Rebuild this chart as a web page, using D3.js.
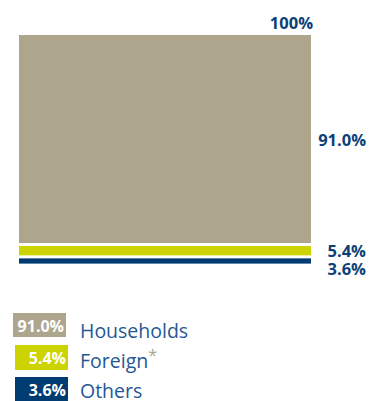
<!DOCTYPE html>
<html>
<head>
<meta charset="utf-8">
<script src="https://cdn.jsdelivr.net/npm/d3@7"></script>
<style>
  body { margin: 0; background: #fff; }
  svg { display: block; font-family: "Open Sans", sans-serif; }
</style>
</head>
<body>
<script>
//chart values
var categories = ["Households", "Foreign", "Others"];
var shares = [91.0, 5.4, 3.6];
var shareLabels = ["91.0%", "5.4%", "3.6%"];
var totalLabel = "100%";
var colors = ["#ada68d", "#ccd300", "#003b71"];

//frame
var width = 370,
    height = 401;

var svg = d3.select("body")
    .append("svg")
    .attr("width", width)
    .attr("height", height);

//vertical scale for the stacked column, 0% at top
var y = d3.scaleLinear()
    .domain([0, 100])
    .range([35, 263.6]);

var x0 = 19, x1 = 311, gap = 3;

//cumulative start of each segment
var starts = [];
shares.reduce(function(acc, v){ starts.push(acc); return acc + v; }, 0);

var segs = categories.map(function(c, i){
    return {name: c, v: shares[i], start: starts[i], end: starts[i] + shares[i], label: shareLabels[i], color: colors[i], i: i};
});

svg.selectAll(".seg")
    .data(segs)
    .enter()
    .append("rect")
    .attr("class", "seg")
    .attr("x", x0)
    .attr("width", x1 - x0)
    .attr("y", function(d){ return y(d.start) + (d.i > 0 ? gap : 0); })
    .attr("height", function(d){ return y(d.end) - y(d.start) - (d.i > 0 ? gap : 0); })
    .attr("fill", function(d){ return d.color; });

//total label
svg.append("text")
    .attr("x", 313)
    .attr("y", 29)
    .attr("text-anchor", "end")
    .attr("font-weight", "bold")
    .attr("font-size", 16.5)
    .attr("fill", "#0d3f78")
    .text(totalLabel);

//value labels on the right
var labelY = [146, 256.5, 274.5];
svg.selectAll(".val")
    .data(segs)
    .enter()
    .append("text")
    .attr("class", "val")
    .attr("x", 366)
    .attr("y", function(d){ return labelY[d.i]; })
    .attr("text-anchor", "end")
    .attr("font-weight", "bold")
    .attr("font-size", 16.5)
    .attr("fill", "#0d3f78")
    .text(function(d){ return d.label; });

//legend
var legBox = [
    {x: 13, y: 313, w: 53, h: 24},
    {x: 15, y: 345, w: 53, h: 25},
    {x: 15, y: 377, w: 53, h: 25}
];
var leg = svg.selectAll(".leg")
    .data(segs)
    .enter()
    .append("g")
    .attr("class", "leg");

leg.append("rect")
    .attr("x", function(d){ return legBox[d.i].x; })
    .attr("y", function(d){ return legBox[d.i].y; })
    .attr("width", function(d){ return legBox[d.i].w; })
    .attr("height", function(d){ return legBox[d.i].h; })
    .attr("fill", function(d){ return d.color; });

leg.append("text")
    .attr("x", function(d){ return legBox[d.i].x + legBox[d.i].w - 2; })
    .attr("y", function(d){ return legBox[d.i].y + 18.5; })
    .attr("text-anchor", "end")
    .attr("font-weight", "bold")
    .attr("font-size", 16)
    .attr("fill", "#fff")
    .text(function(d){ return d.label; });

var legText = leg.append("text")
    .attr("x", 80)
    .attr("y", function(d){ return [338, 368, 398][d.i]; })
    .attr("font-size", 19.5)
    .attr("fill", "#1f5894")
    .text(function(d){ return d.name; });

//asterisk on Foreign
legText.filter(function(d){ return d.name === "Foreign"; })
    .append("tspan")
    .attr("dy", -7)
    .attr("font-size", 16)
    .attr("fill", "#ada68d")
    .text("*");
</script>
</body>
</html>
